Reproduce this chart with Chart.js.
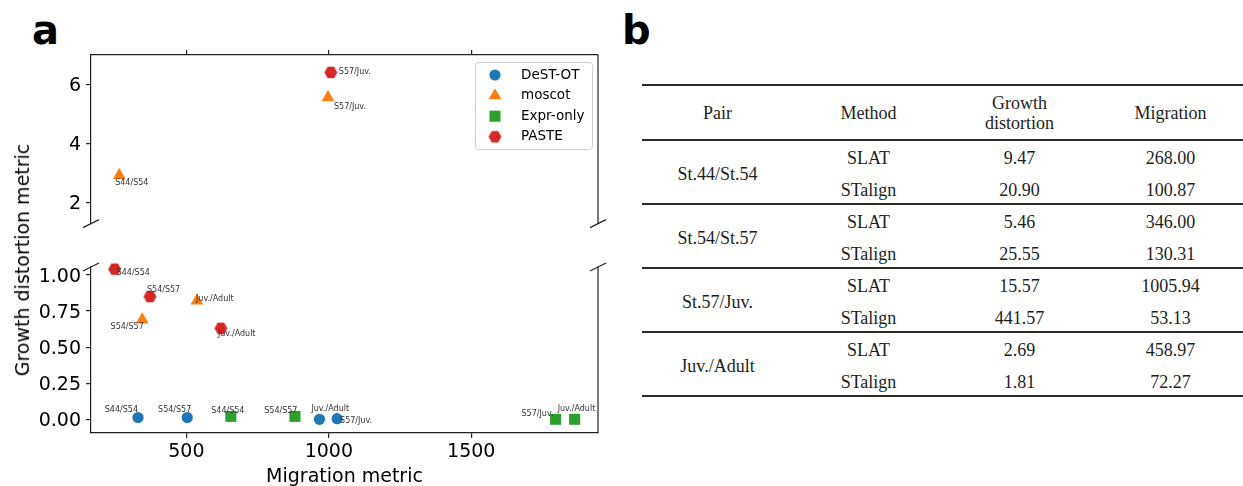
<!DOCTYPE html>
<html>
<head>
<meta charset="utf-8">
<script src="https://cdn.jsdelivr.net/npm/chart.js@4.4.0/dist/chart.umd.min.js"></script>
<style>
  html, body { margin: 0; padding: 0; background: #fff; overflow: hidden; }
  body { width: 1243px; height: 486px; position: relative; font-family: 'DejaVu Sans', sans-serif; }
  .letter { position: absolute; font: bold 40px 'DejaVu Sans', sans-serif; line-height: 40px; color: #000; }
  .wrap { position: absolute; left: 0; }
  #ytitle { position: absolute; left: 22px; top: 260px; transform: translate(-50%, -50%) rotate(-90deg);
            white-space: nowrap; font-size: 19px; color: #000; }
  #tbl { position: absolute; left: 0; top: 0; font-family: 'Liberation Serif', 'Times New Roman', serif;
         font-size: 18px; color: #1e1e1e; }
  .rule { position: absolute; height: 2px; background: #2b2b2b; }
  .cell { position: absolute; text-align: center; white-space: nowrap; height: 22px; line-height: 22px; }
</style>
</head>
<body>
<div class="letter" style="left:32px; top:10px;">a</div>
<div class="letter" style="left:622px; top:10px;">b</div>

<div class="wrap" style="top:0;"><canvas id="topChart" width="620" height="240"></canvas></div>
<div class="wrap" style="top:240px;"><canvas id="botChart" width="620" height="250"></canvas></div>
<div id="ytitle">Growth distortion metric</div>
<div id="tbl"></div>

<script>
// ---- panel a: migration vs growth distortion ----
const methods = ['DeST-OT', 'moscot', 'Expr-only', 'PASTE'];
const colors = ['#1f77b4', '#ff7f0e', '#2ca02c', '#d62728'];

const destotPairs = ['S44/S54', 'S54/S57', 'Juv./Adult', 'S57/Juv.'];
const destotMigration = [330, 503, 967, 1029];
const destotGrowth = [0.012, 0.012, 0.0, 0.004];

const moscotPairs = ['S44/S54', 'S54/S57', 'S57/Juv.', 'Juv./Adult'];
const moscotMigration = [264, 345, 997, 537];
const moscotGrowth = [2.92, 0.69, 5.56, 0.82];

const exprPairs = ['S44/S54', 'S54/S57', 'S57/Juv.', 'Juv./Adult'];
const exprMigration = [656, 881, 1796, 1863];
const exprGrowth = [0.02, 0.02, 0.0, 0.0];

const pastePairs = ['S44/S54', 'S54/S57', 'S57/Juv.', 'Juv./Adult'];
const pasteMigration = [248, 372, 1007, 621];
const pasteGrowth = [1.04, 0.85, 6.41, 0.63];

const xTicks = [500, 1000, 1500];
const topYTicks = [2, 4, 6];
const botYTicks = [0, 0.25, 0.5, 0.75, 1.0];
const BREAK_AT = 1.5;

// ---- panel b: table ----
const tablePairs = ['St.44/St.54', 'St.54/St.57', 'St.57/Juv.', 'Juv./Adult'];
const tableMethods = ['SLAT', 'STalign'];
const slatGrowth = [9.47, 5.46, 15.57, 2.69];
const slatMigration = [268.00, 346.00, 1005.94, 458.97];
const stalignGrowth = [20.90, 25.55, 441.57, 1.81];
const stalignMigration = [100.87, 130.31, 53.13, 72.27];

// label placement next to each marker: [dx, dy, align]  (styling only)
const destotLabelPos = [[0, -7.5, 'right'], [4, -8, 'right'], [-8, -10, 'left'], [3, 2.5, 'left']];
const moscotLabelPos = [[-4, 8, 'left'], [1.5, 7, 'right'], [6, 9, 'left'], [-1, -2, 'left']];
const exprLabelPos = [[-3, -5, 'center'], [2.5, -5, 'right'], [-2, -5, 'right'], [-17, -10, 'left']];
const pasteLabelPos = [[2, 4, 'left'], [-3, -7, 'left'], [8, 0, 'left'], [-3, 6, 'left']];

function hexMarker(color, r) {
  const c = document.createElement('canvas');
  const s = Math.ceil(r * 2 + 2);
  c.width = s; c.height = s;
  const g = c.getContext('2d');
  g.fillStyle = color;
  g.beginPath();
  for (let i = 0; i < 6; i++) {
    const a = Math.PI / 3 * i;
    const px = s / 2 + r * Math.cos(a), py = s / 2 + r * Math.sin(a);
    if (i) g.lineTo(px, py); else g.moveTo(px, py);
  }
  g.closePath();
  g.fill();
  return c;
}

const markerStyles = ['circle', 'triangle', 'rect', hexMarker(colors[3], 6.5)];
const markerRadius = [5.6, 7.4, 7.8, 6.5];

const series = [
  [destotPairs, destotMigration, destotGrowth, destotLabelPos],
  [moscotPairs, moscotMigration, moscotGrowth, moscotLabelPos],
  [exprPairs, exprMigration, exprGrowth, exprLabelPos],
  [pastePairs, pasteMigration, pasteGrowth, pasteLabelPos],
];

function buildDatasets(upper) {
  return series.map(([pairs, mig, gro, pos], m) => {
    const idx = gro.map((g, i) => i).filter(i => upper ? gro[i] > BREAK_AT : gro[i] <= BREAK_AT);
    return {
      label: methods[m],
      data: idx.map(i => ({ x: mig[i], y: gro[i] })),
      pairs: idx.map(i => pairs[i]),
      labelPos: idx.map(i => pos[i]),
      pointStyle: markerStyles[m],
      pointRadius: markerRadius[m],
      pointHoverRadius: markerRadius[m],
      backgroundColor: colors[m],
      borderColor: colors[m],
      borderWidth: 0,
      clip: false,
    };
  });
}

Chart.defaults.font.family = "'DejaVu Sans', sans-serif";
Chart.defaults.color = '#000';

const AXIS = '#222';
const tickFont = { size: 19 };

const pairLabels = {
  id: 'pairLabels',
  afterDatasetsDraw(chart) {
    const ctx = chart.ctx;
    ctx.save();
    ctx.font = "8px 'DejaVu Sans'";
    ctx.fillStyle = '#333';
    ctx.textBaseline = 'middle';
    chart.data.datasets.forEach((ds, i) => {
      chart.getDatasetMeta(i).data.forEach((el, j) => {
        const [dx, dy, align] = ds.labelPos[j];
        ctx.textAlign = align;
        ctx.fillText(ds.pairs[j], el.x + dx, el.y + dy);
      });
    });
    ctx.restore();
  }
};

// right spine + diagonal break marks
function brokenAxis(edge) {
  return {
    id: 'brokenAxis',
    afterDraw(chart) {
      const ctx = chart.ctx, a = chart.chartArea;
      ctx.save();
      ctx.strokeStyle = AXIS;
      ctx.lineWidth = 1.2;
      ctx.beginPath();
      ctx.moveTo(a.right, a.top); ctx.lineTo(a.right, a.bottom);
      ctx.stroke();
      const y = edge === 'bottom' ? a.bottom : a.top;
      [a.left, a.right].forEach(x => {
        ctx.beginPath();
        ctx.moveTo(x - 8, y + 4); ctx.lineTo(x + 8, y - 4);
        ctx.stroke();
      });
      ctx.restore();
    }
  };
}

const legendBox = {
  id: 'legendBox',
  afterDraw(chart) {
    const ctx = chart.ctx, a = chart.chartArea;
    const w = 117, h = 87;
    const left = a.right - 6 - w, top = a.top + 7;
    ctx.save();
    ctx.fillStyle = 'rgba(255,255,255,0.8)';
    ctx.strokeStyle = 'rgba(204,204,204,0.9)';
    ctx.lineWidth = 1;
    ctx.beginPath();
    ctx.roundRect(left + 0.5, top + 0.5, w, h, 3);
    ctx.fill(); ctx.stroke();
    ctx.font = "13.5px 'DejaVu Sans'";
    ctx.textBaseline = 'middle';
    ctx.textAlign = 'left';
    methods.forEach((name, i) => {
      const y = top + 13 + i * 20.6;
      ctx.fillStyle = colors[i];
      Chart.helpers.drawPoint(ctx, { pointStyle: markerStyles[i], radius: markerRadius[i], rotation: 0, borderWidth: 0 }, left + 20, y);
      ctx.fillStyle = '#000';
      ctx.fillText(name, left + 46, y);
    });
    ctx.restore();
  }
};

const fixedTicks = list => s => { s.ticks = list.map(v => ({ value: v })); };
const gridOpts = { drawOnChartArea: false, drawTicks: true, tickLength: 5, color: AXIS, lineWidth: 1.2 };
const borderOpts = { display: true, color: AXIS, width: 1.2 };

const xScale = {
  type: 'linear', min: 165, max: 1945,
  afterBuildTicks: fixedTicks(xTicks),
  ticks: { font: tickFont, padding: 3, maxRotation: 0, autoSkip: false, callback: v => String(v) },
  grid: gridOpts,
  border: borderOpts,
};

new Chart(document.getElementById('topChart'), {
  type: 'scatter',
  data: { datasets: buildDatasets(true) },
  options: {
    responsive: false, animation: false, events: [],
    layout: { padding: { left: 0, top: 55, right: 22, bottom: 9.6 } },
    plugins: { legend: { display: false }, tooltip: { enabled: false } },
    scales: {
      x: Object.assign({}, xScale, {
        position: 'top',
        ticks: Object.assign({}, xScale.ticks, { display: false }),
        afterFit: s => { s.height = 0; },
      }),
      y: {
        type: 'linear', min: 1.28, max: 7.0,
        afterBuildTicks: fixedTicks(topYTicks),
        ticks: { font: tickFont, padding: 5, labelOffset: 2, autoSkip: false, callback: v => String(v) },
        grid: gridOpts,
        border: borderOpts,
        afterFit: s => { s.width = 91; },
      }
    }
  },
  plugins: [pairLabels, brokenAxis('bottom'), legendBox]
});

new Chart(document.getElementById('botChart'), {
  type: 'scatter',
  data: { datasets: buildDatasets(false) },
  options: {
    responsive: false, animation: false, events: [],
    layout: { padding: { left: 0, top: 27, right: 22, bottom: 0 } },
    plugins: { legend: { display: false }, tooltip: { enabled: false } },
    scales: {
      x: Object.assign({}, xScale, {
        position: 'bottom',
        title: { display: true, text: 'Migration metric', font: { size: 19 }, padding: { top: 0, bottom: 2 } },
        afterFit: s => { s.height = 57; },
      }),
      y: {
        type: 'linear', min: -0.095, max: 1.055,
        afterBuildTicks: fixedTicks(botYTicks),
        ticks: { font: tickFont, padding: 5, labelOffset: 2, autoSkip: false, callback: v => v.toFixed(2) },
        grid: gridOpts,
        border: borderOpts,
        afterFit: s => { s.width = 91; },
      }
    }
  },
  plugins: [pairLabels, brokenAxis('top')]
});

// ---- table (panel b) ----
const tbl = document.getElementById('tbl');
const TL = 642, COLW = 151, TW = 604;
const TOP_RULE = 85, HEAD_RULE = 140, GROUP_H = 64;

function rule(y) {
  const d = document.createElement('div');
  d.className = 'rule';
  d.style.left = TL + 'px'; d.style.width = TW + 'px'; d.style.top = (y - 1) + 'px';
  tbl.appendChild(d);
}
function cell(col, cy, text) {
  const d = document.createElement('div');
  d.className = 'cell';
  d.style.left = (TL + col * COLW) + 'px'; d.style.width = COLW + 'px';
  d.style.top = (cy - 11) + 'px';
  d.textContent = text;
  tbl.appendChild(d);
}

rule(TOP_RULE);
cell(0, 113.3, 'Pair');
cell(1, 113.3, 'Method');
cell(2, 103.3, 'Growth');
cell(2, 123.3, 'distortion');
cell(3, 113.3, 'Migration');
rule(HEAD_RULE);

tablePairs.forEach((p, g) => {
  const r = HEAD_RULE + g * GROUP_H;
  cell(0, r + 34, p);
  cell(1, r + 17.8, tableMethods[0]);
  cell(2, r + 17.8, slatGrowth[g].toFixed(2));
  cell(3, r + 17.8, slatMigration[g].toFixed(2));
  cell(1, r + 49.6, tableMethods[1]);
  cell(2, r + 49.6, stalignGrowth[g].toFixed(2));
  cell(3, r + 49.6, stalignMigration[g].toFixed(2));
  rule(r + GROUP_H);
});
</script>
</body>
</html>
